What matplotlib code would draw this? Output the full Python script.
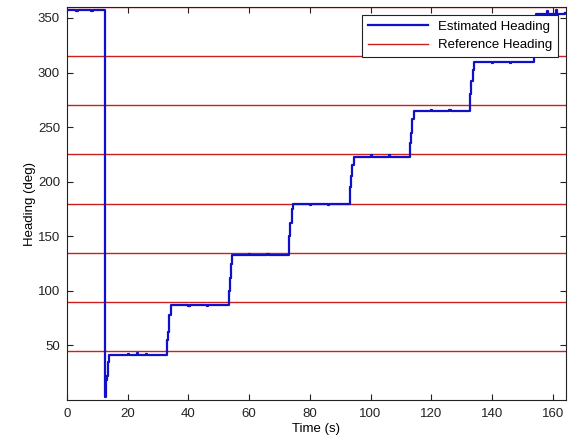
import matplotlib
matplotlib.use("Agg")
import matplotlib.pyplot as plt

plt.rcParams['font.family'] = ['Liberation Sans', 'DejaVu Sans']

# Estimated heading samples (time in s, heading in deg), held between samples
time_s = [0.0, 3.0, 3.5, 8.0, 8.5, 12.5, 12.55, 12.8, 13.0, 13.3, 13.6, 14.0,
          20.0, 20.5, 23.0, 23.4, 26.0, 26.4, 32.6, 33.0, 33.3, 33.7, 34.2,
          40.0, 40.4, 46.0, 46.4, 53.0, 53.3, 53.6, 54.0, 54.4,
          60.0, 60.4, 66.0, 66.4, 73.0, 73.3, 73.6, 74.0, 74.4,
          80.0, 80.4, 86.0, 86.4, 93.0, 93.3, 93.6, 94.0, 94.4,
          100.0, 100.4, 106.0, 106.4, 112.8, 113.1, 113.4, 113.8, 114.2,
          120.0, 120.4, 126.0, 126.4, 132.6, 132.9, 133.2, 133.6, 134.0,
          140.0, 140.4, 146.0, 146.4, 153.5, 153.8, 154.1, 154.5,
          158.0, 158.4, 161.0, 161.4, 164.0]
heading_deg = [357, 356, 357, 356, 357, 357, 3, 10, 18, 22, 35, 41,
               42, 41, 43, 41, 42, 41, 41, 55, 62, 78, 87,
               86, 87, 86, 87, 87, 100, 112, 125, 133,
               134, 133, 134, 133, 133, 150, 162, 175, 180,
               179, 180, 179, 180, 180, 195, 205, 215, 223,
               224, 223, 224, 223, 223, 235, 245, 257, 265,
               266, 265, 266, 265, 265, 280, 292, 302, 310,
               309, 310, 309, 310, 310, 325, 340, 354,
               356, 354, 357, 354, 355]

# Reference headings every 45 deg
reference_deg = [45, 90, 135, 180, 225, 270, 315, 360]

x_ticks = [0, 20, 40, 60, 80, 100, 120, 140, 160]
y_ticks = [50, 100, 150, 200, 250, 300, 350]

fig = plt.figure(figsize=(5.72, 4.41), dpi=100)
ax = fig.add_axes([0.117, 0.093, 0.872, 0.891])

ax.plot(time_s, heading_deg, drawstyle='steps-post', color='#1010c8',
        lw=1.6, label='Estimated Heading', zorder=3)
for i, r in enumerate(reference_deg):
    ax.axhline(r, color='#cc2020', lw=1.0,
               label='Reference Heading' if i == 0 else None, zorder=2)

ax.set_xlim(0, 164.3)
ax.set_ylim(0, 360)
ax.set_xticks(x_ticks)
ax.set_yticks(y_ticks)
ax.tick_params(direction='in', top=True, right=True, length=4, labelsize=9.5,
               colors='#222222')
ax.tick_params(axis='x', pad=6)
ax.tick_params(axis='y', pad=5)
for s in ax.spines.values():
    s.set_color('#222222')
ax.set_xlabel('Time (s)', fontsize=9.5, labelpad=2)
ax.set_ylabel('Heading (deg)', fontsize=9.5, labelpad=1)

leg = ax.legend(loc='upper right', fontsize=9.5, fancybox=False, framealpha=1,
                edgecolor='#222222', handlelength=4.5, borderaxespad=0.3,
                bbox_to_anchor=(0.993, 0.99), labelspacing=0.45,
                borderpad=0.45)
leg.get_frame().set_linewidth(0.8)

fig.savefig('out.png', dpi=100)
